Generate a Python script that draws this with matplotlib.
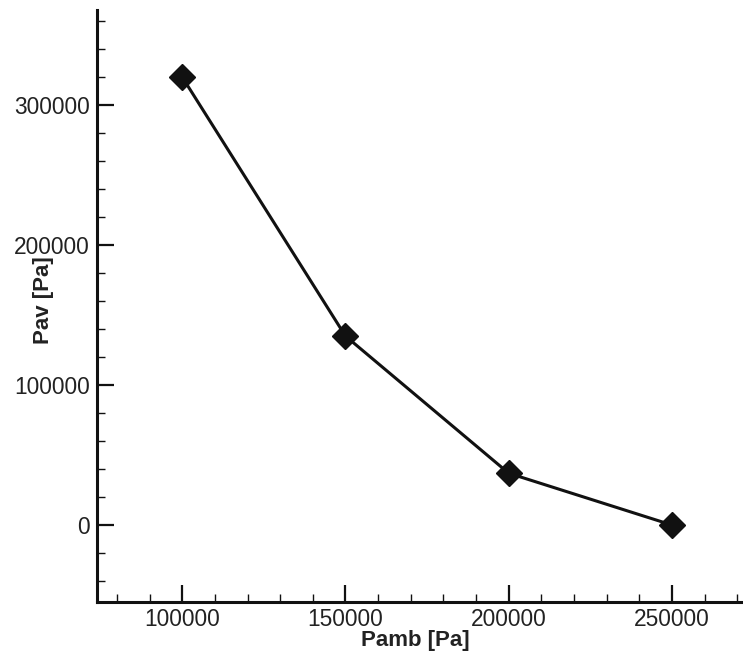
import matplotlib.pyplot as plt
from matplotlib.ticker import MultipleLocator

plt.rcParams['font.family'] = ['Liberation Sans', 'DejaVu Sans']

# Ambient pressure vs average pressure
pamb = [100000, 150000, 200000, 250000]
pav = [320000, 135000, 37000, 0]

fig = plt.figure(figsize=(7.43, 6.59), dpi=100)
ax = fig.add_axes([0.131, 0.0865, 0.87, 0.8985])

ax.plot(pamb, pav, color='#111111', lw=2.2, marker='D', ms=13,
        markerfacecolor='#111111', markeredgecolor='#111111', clip_on=False)

ax.set_xlim(74000, 272000)
ax.set_ylim(-55000, 368000)

ax.xaxis.set_major_locator(MultipleLocator(50000))
ax.xaxis.set_minor_locator(MultipleLocator(10000))
ax.yaxis.set_major_locator(MultipleLocator(100000))
ax.yaxis.set_minor_locator(MultipleLocator(20000))

for s in ['top', 'right']:
    ax.spines[s].set_visible(False)
for s in ['left', 'bottom']:
    ax.spines[s].set_linewidth(2.2)
    ax.spines[s].set_color('#111111')

ax.tick_params(which='major', direction='in', length=12, width=1.6,
               labelsize=16.4, color='#111111', labelcolor='#222222')
ax.tick_params(which='minor', direction='in', length=6, width=1, color='#111111')
ax.tick_params(axis='x', which='major', pad=4)
ax.tick_params(axis='y', which='major', pad=5.5)

ax.set_xlabel('Pamb [Pa]', fontsize=16, fontweight='bold', color='#222222')
ax.set_ylabel('Pav [Pa]', fontsize=16, fontweight='bold', color='#222222')
ax.xaxis.set_label_coords(0.492, -0.048)
ax.yaxis.set_label_coords(-0.067, 0.51)

fig.savefig('out.png', dpi=100)
